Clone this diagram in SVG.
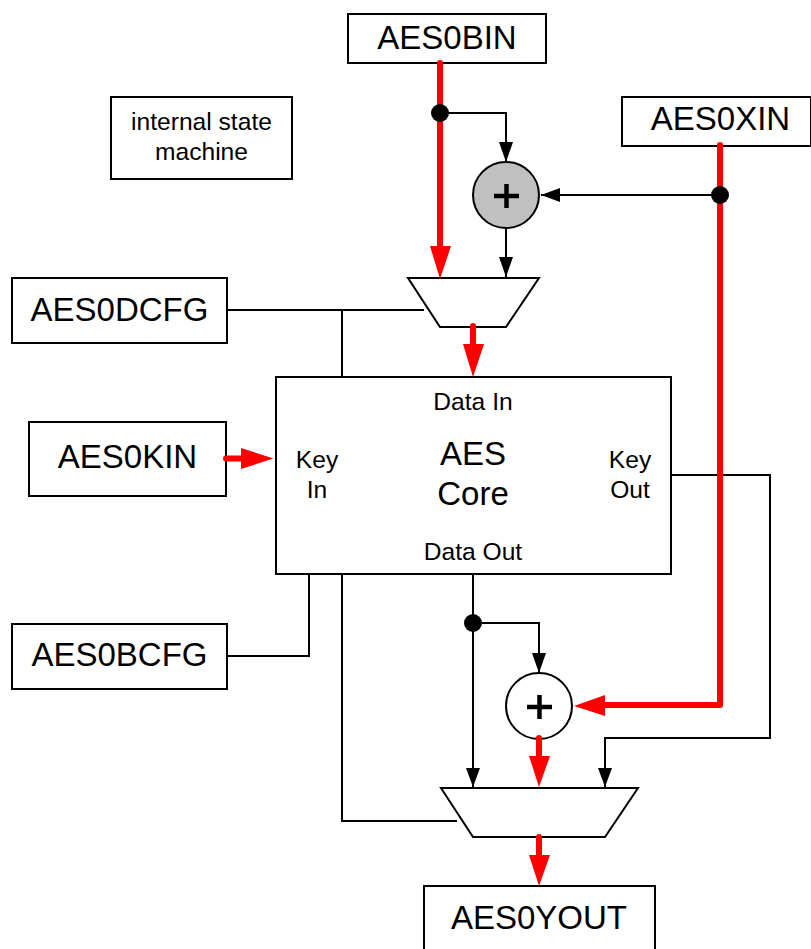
<svg xmlns="http://www.w3.org/2000/svg" width="811" height="949" viewBox="0 0 811 949">
<style>
text{font-family:"Liberation Sans",Arial,sans-serif;fill:#000;text-anchor:middle}
.b{fill:#fff;stroke:#000;stroke-width:2}
.t{font-size:33px}
.s{font-size:24.6px}
.w{fill:none;stroke:#000;stroke-width:2}
.r{fill:none;stroke:#f00;stroke-width:6;stroke-linecap:round;stroke-linejoin:round}
.ah{fill:#000;stroke:none}
.rh{fill:#f00;stroke:none}
.p{fill:none;stroke:#000;stroke-width:4.5}
</style>
<rect width="811" height="949" fill="#fff"/>
<g id="AES0BIN"><rect class="b" x="348" y="14" width="198" height="49"/><text class="t" x="447" y="49">AES0BIN</text></g>
<g id="state"><rect class="b" x="111" y="97" width="181" height="82"/><text class="s" x="201.500" y="130">internal state</text><text class="s" x="201.500" y="160">machine</text></g>
<g id="AES0XIN"><rect class="b" x="622" y="97" width="189" height="49"/><text class="t" x="720.500" y="130">AES0XIN</text></g>
<g id="xor1"><circle cx="506" cy="195" r="33" fill="#c0c0c0" stroke="#000" stroke-width="2"/><path class="p" d="M494 196H519M506.500 184V208"/></g>
<g id="mux1"><path class="b" d="M408 278H539L506 327H440Z"/></g>
<g id="AES0DCFG"><rect class="b" x="12" y="278" width="215" height="65"/><text class="t" x="119.500" y="321">AES0DCFG</text></g>
<g id="AES0KIN"><rect class="b" x="29" y="422" width="197" height="74"/><text class="t" x="127.500" y="468">AES0KIN</text></g>
<g id="core"><rect class="b" x="276" y="377" width="395" height="197"/>
<text class="s" x="473" y="410">Data In</text>
<text class="t" x="473" y="465">AES</text><text class="t" x="473" y="505">Core</text>
<text class="s" x="317" y="468">Key</text><text class="s" x="317" y="498">In</text>
<text class="s" x="630" y="468">Key</text><text class="s" x="630" y="498">Out</text>
<text class="s" x="473" y="560">Data Out</text></g>
<g id="AES0BCFG"><rect class="b" x="12" y="624" width="215" height="65"/><text class="t" x="119.500" y="666">AES0BCFG</text></g>
<g id="xor2"><circle cx="539" cy="706" r="33" fill="#fff" stroke="#000" stroke-width="2"/><path class="p" d="M527 707H552M539.500 695V719"/></g>
<g id="mux2"><path class="b" d="M441 788H638L605 837H473Z"/></g>
<g id="AES0YOUT"><rect class="b" x="424" y="886" width="231" height="70"/><text class="t" x="539" y="929">AES0YOUT</text></g>
<g id="connectors">
<path class="w" d="M228 310H424M342 310V377M440 113H506V162M506 228V277M718 195H541"/>
<path class="w" d="M473 574V787M473 623H539V673M671 475H770V738H605V787M309 574V656H228M342 574V821H457"/>
<path class="r" d="M440 63V246"/>
<path class="r" d="M473 326V345"/>
<path class="r" d="M720 145V705H605"/>
<path class="r" d="M539 738V756"/>
<path class="r" d="M539 837V855"/>
<path class="r" d="M226 458.500H243"/>
<polygon class="ah" points="506,162 499,142 513,142"/>
<polygon class="ah" points="506,277 499,257 513,257"/>
<polygon class="ah" points="541,195 560,188 560,202"/>
<polygon class="ah" points="473,787 466,768 480,768"/>
<polygon class="ah" points="539,673 532,653 546,653"/>
<polygon class="ah" points="605,787 598,768 612,768"/>
<polygon class="rh" points="440,279 430,246 451,246"/>
<polygon class="rh" points="473,377 463,344 484,344"/>
<polygon class="rh" points="574,706 605,695 605,716"/>
<polygon class="rh" points="539,787 529,756 550,756"/>
<polygon class="rh" points="539,886 529,855 550,855"/>
<polygon class="rh" points="273.500,458.500 241,448 241,469"/>
</g>
<g id="dot1"><circle cx="440" cy="113" r="9"/></g>
<g id="dot2"><circle cx="720" cy="195" r="9"/></g>
<g id="dot3"><circle cx="473" cy="623" r="9"/></g>
</svg>
